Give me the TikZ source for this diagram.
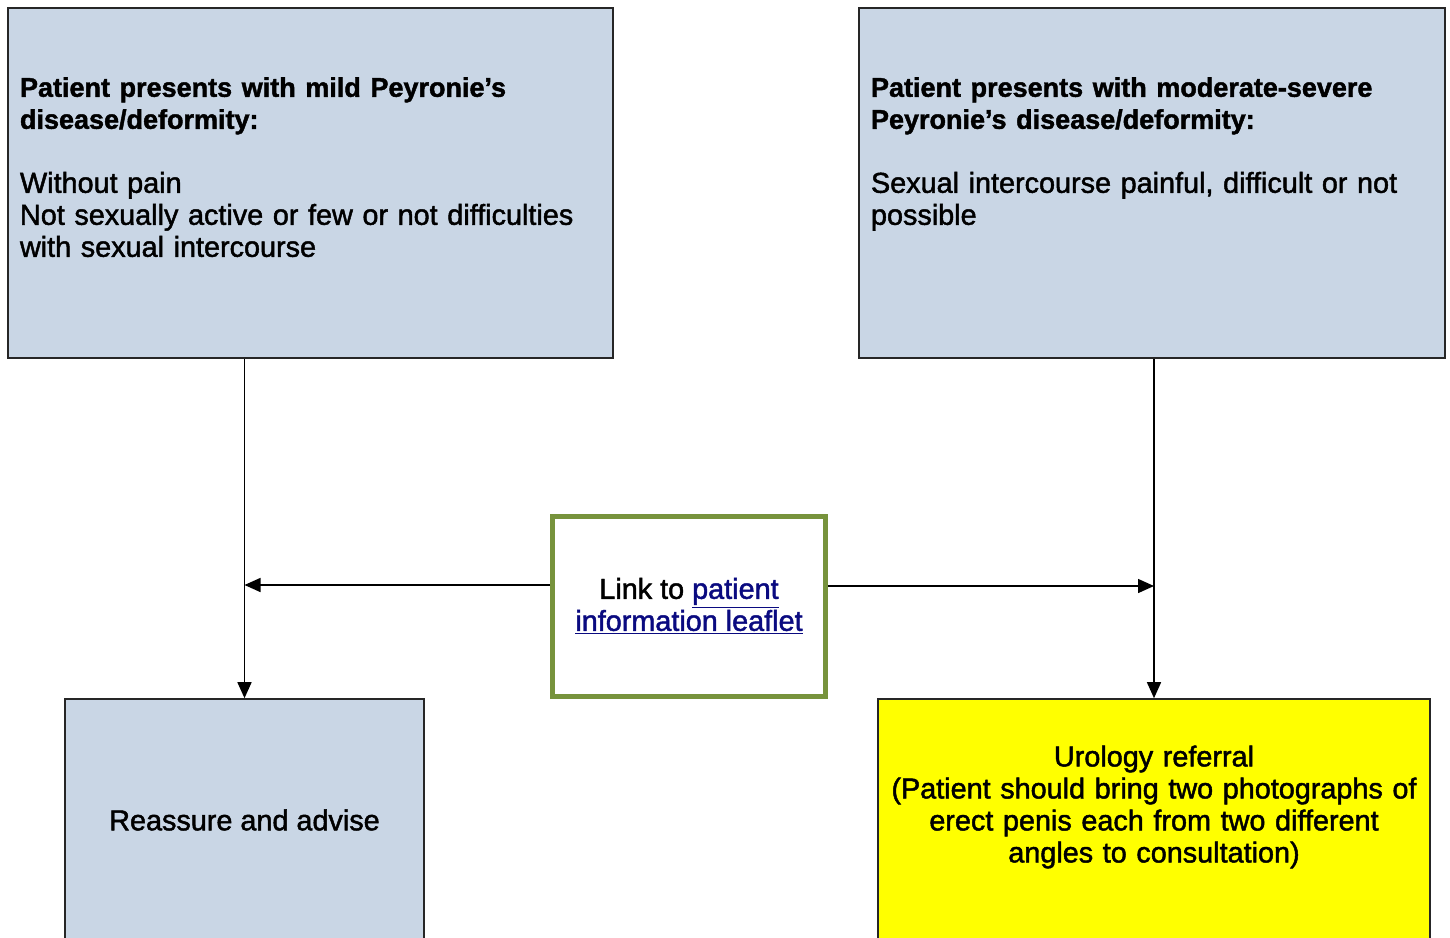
\documentclass[tikz,border=0pt]{standalone}
\usepackage{fontspec}
\setmainfont{Liberation Sans}
\newfontfamily\bookfont{Liberation Sans}[FakeBold=1.6]
\usepackage{tikz}
\usetikzlibrary{positioning}
\usetikzlibrary{arrows.meta}

\definecolor{boxblue}{HTML}{C9D6E5}
\definecolor{linkgreen}{HTML}{77933C}
\definecolor{linkblue}{HTML}{0A0A80}
\definecolor{referyellow}{HTML}{FFFF00}

\newcommand{\headline}[1]{{\fontsize{13.5}{16}\selectfont\bfseries #1}}

\begin{document}
\begin{tikzpicture} [
    x=0.5pt, y=-0.5pt,             % one unit is one pixel of the layout
    ]
% -------------------------------------------------
\tikzset{
  base/.style={draw=black!85, line width=0.8pt, rectangle, font=\bookfont\fontsize{14.4}{16}\selectfont},
  rect/.style={base, fill=boxblue, align=left, minimum height=175pt, inner xsep=6pt},
  low/.style={base, align=center, minimum height=121pt},
  linkbox/.style={base, draw=linkgreen, line width=2.5pt, fill=white, align=center, minimum width=136.5pt, minimum height=90pt},
  line/.style={draw, line width=0.75pt, -{Triangle[length=8pt, width=7pt]}},
}
    \useasboundingbox (0,0) rectangle (1450,937);

    \node [rect, text width=290.5pt] (mild) at (310.5,183)
      {\headline{Patient presents with mild Peyronie’s\\ disease/deformity:}\\[16pt]
       Without pain\\ Not sexually active or few or not difficulties\\ with sexual intercourse\\ \mbox{}};
    \node [rect, text width=281pt] (severe) at (1152,183)
      {\headline{Patient presents with moderate-severe\\ Peyronie’s disease/deformity:}\\[16pt]
       Sexual intercourse painful, difficult or not\\ possible\\ \mbox{}\\ \mbox{}};

    \node [linkbox] (link) at (689,606.5)
      {Link to \textcolor{linkblue}{\underline{patient}}\\ \textcolor{linkblue}{\underline{information leaflet}}};

    \node [low, fill=boxblue, minimum width=179.5pt] (reassure) at (244.5,820) {Reassure and advise};
    \node [low, fill=referyellow, text width=270pt, inner xsep=3pt] (urology) at (1154,820)
      {Urology referral\\ (Patient should bring two photographs of\\ erect penis each from two different\\ angles to consultation)\\ \mbox{}};

    \path [line] (mild.south -| reassure.north) -- (reassure.north);
    \path [line] (severe.south -| urology.north) -- (urology.north);
    \path [line] ([yshift=10.75pt]link.west) -- ([yshift=10.75pt]link.west -| reassure.north);
    \path [line] ([yshift=10.25pt]link.east) -- ([yshift=10.25pt]link.east -| urology.north);

\end{tikzpicture}
\end{document}
